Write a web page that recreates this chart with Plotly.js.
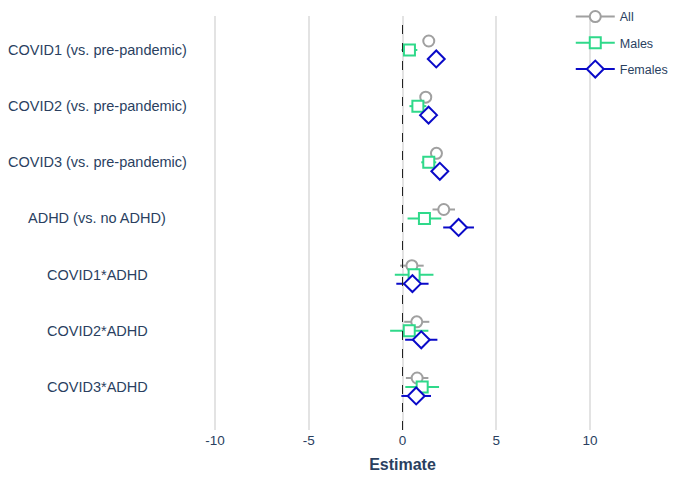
<!DOCTYPE html>
<html>
<head>
<meta charset="utf-8">
<script src="https://cdn.plot.ly/plotly-3.0.1.min.js"></script>
<style>html,body{margin:0;padding:0;background:#fff;}#chart{width:673px;height:481px;}</style>
</head>
<body>
<div id="chart"></div>
<script>
const categories = ["COVID1 (vs. pre-pandemic)", "COVID2 (vs. pre-pandemic)", "COVID3 (vs. pre-pandemic)", "ADHD (vs. no ADHD)", "COVID1*ADHD", "COVID2*ADHD", "COVID3*ADHD"];
const seriesNames = ["All", "Males", "Females"];
const allEst = [1.40, 1.24, 1.81, 2.20, 0.50, 0.76, 0.78];
const allErr = [0.15, 0.15, 0.15, 0.60, 0.63, 0.67, 0.60];
const malesEst = [0.37, 0.82, 1.40, 1.17, 0.62, 0.36, 1.05];
const malesErr = [0.42, 0.45, 0.40, 0.90, 1.03, 1.02, 0.90];
const femalesEst = [1.80, 1.39, 1.99, 2.99, 0.53, 1.00, 0.73];
const femalesErr = [0.15, 0.15, 0.15, 0.82, 0.86, 0.86, 0.79];
const xTicks = [-10, -5, 0, 5, 10];

const colors = ["#a0a0a0", "#2fd98a", "#0a0ac8"];
const symbols = ["circle", "square", "diamond"];
const sizes = [11, 11, 13];
const offsets = [-0.16, 0, 0.16];
const ests = [allEst, malesEst, femalesEst];
const errs = [allErr, malesErr, femalesErr];

const traces = [];
seriesNames.forEach((name, s) => {
  traces.push({
    type: "scatter", mode: "markers", name: name, showlegend: false,
    x: ests[s],
    y: categories.map((c, i) => i + 1 + offsets[s]),
    error_x: {type: "data", array: errs[s], visible: true, color: colors[s], thickness: 2, width: 0},
    marker: {symbol: symbols[s], size: sizes[s], color: "#ffffff", line: {color: colors[s], width: 2}},
    hoverinfo: "x+name"
  });
});
seriesNames.forEach((name, s) => {
  traces.push({
    type: "scatter", mode: "lines+markers", name: name, legendgroup: name,
    x: [null], y: [null],
    line: {color: colors[s], width: 2},
    marker: {symbol: symbols[s], size: sizes[s], color: "#ffffff", line: {color: colors[s], width: 2}}
  });
});

const annotations = categories.map((c, i) => ({
  text: c, xref: "paper", yref: "y", x: -0.273, y: i + 1, xanchor: "center", yanchor: "middle",
  showarrow: false, font: {family: "Liberation Sans, Arial, sans-serif", size: 14.5, color: "#2a3f5f"}
}));

const layout = {
  width: 673, height: 481,
  margin: {l: 205, r: 73, t: 16, b: 51, autoexpand: false},
  paper_bgcolor: "#fff", plot_bgcolor: "#fff",
  font: {family: "Liberation Sans, Arial, sans-serif", color: "#2a3f5f"},
  showlegend: true,
  legend: {x: 0.926, y: 1.034, xanchor: "left", yanchor: "top", itemwidth: 39, tracegroupgap: 7, font: {size: 12.5, color: "#2a3f5f"}, bgcolor: "rgba(0,0,0,0)"},
  xaxis: {
    range: [-10.53, 10.53], tickvals: xTicks, ticktext: xTicks.map(String),
    showgrid: true, gridcolor: "#e3e3e3", gridwidth: 2, zeroline: false, showline: false,
    tickfont: {size: 13.5, color: "#2a3f5f"},
    title: {text: "<b>Estimate</b>", font: {size: 16, color: "#2a3f5f"}, standoff: 12}
  },
  yaxis: {
    range: [7.766, 0.395], showgrid: false, zeroline: false, showticklabels: false, showline: false
  },
  shapes: [{type: "line", xref: "x", yref: "paper", x0: 0, x1: 0, y0: 0, y1: 1, line: {color: "#222", width: 1, dash: "dash"}}],
  annotations: annotations
};

Plotly.newPlot("chart", traces, layout, {displayModeBar: false, staticPlot: true});
</script>
</body>
</html>
